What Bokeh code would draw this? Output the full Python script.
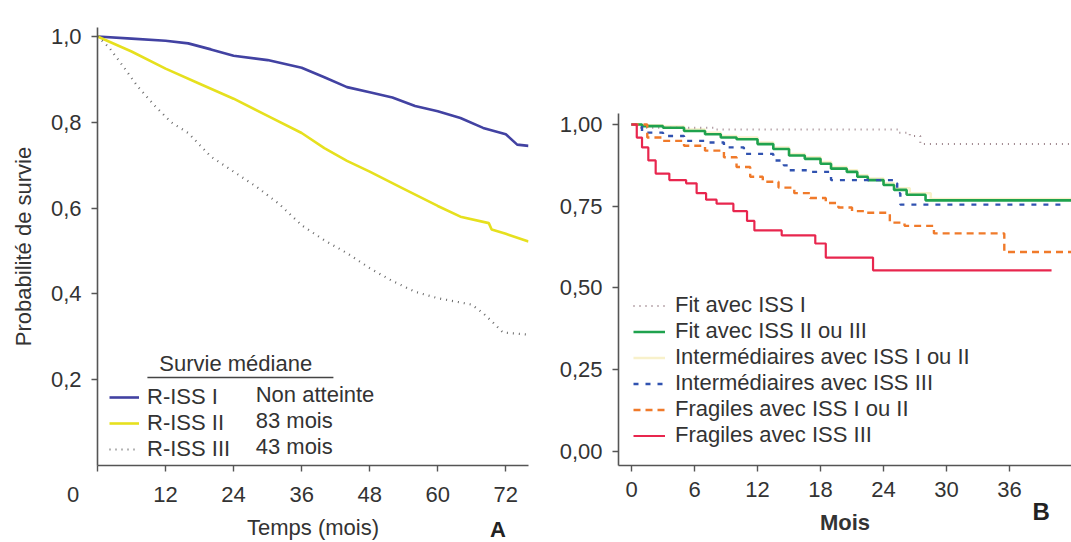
from bokeh.plotting import figure
from bokeh.layouts import row
from bokeh.models import Range1d, FixedTicker, Legend, LegendItem, Label, LinearAxis
from bokeh.embed import file_html
from bokeh.resources import INLINE

# ---------------- Panel A data ----------------
a_x_ticks = [0, 12, 24, 36, 48, 60, 72]
a_x_labels = ["0" + "\u00a0" * 8, "12", "24", "36", "48", "60", "72"]
a_y_ticks = [0.2, 0.4, 0.6, 0.8, 1.0]
a_y_labels = ["0,2", "0,4", "0,6", "0,8", "1,0"]

riss1_t = [0, 6, 12, 16, 20, 24, 30, 36, 40, 44, 48, 52, 56, 60, 64, 68, 72, 74, 76]
riss1_s = [1.0, 0.995, 0.99, 0.984, 0.97, 0.955, 0.945, 0.927, 0.905, 0.882, 0.87, 0.858,
           0.838, 0.826, 0.81, 0.787, 0.772, 0.748, 0.745]
riss2_t = [0, 6, 12, 18, 24, 30, 36, 40, 44, 48, 54, 60, 64, 69, 69.5, 72, 76]
riss2_s = [1.0, 0.965, 0.925, 0.89, 0.855, 0.815, 0.775, 0.74, 0.71, 0.685, 0.645, 0.605,
           0.58, 0.565, 0.55, 0.54, 0.522]
riss3_t = [0, 2, 4, 7, 10, 13, 16, 20, 24, 28, 32, 36, 40, 44, 48, 52, 56, 60, 64, 66, 68,
           70, 71.5, 76]
riss3_s = [1.0, 0.975, 0.94, 0.885, 0.84, 0.8, 0.775, 0.72, 0.685, 0.65, 0.61, 0.56, 0.525,
           0.495, 0.46, 0.43, 0.405, 0.39, 0.38, 0.375, 0.355, 0.33, 0.31, 0.305]
a_groups = ["R-ISS I", "R-ISS II", "R-ISS III"]
a_medians = ["Non atteinte", "83 mois", "43 mois"]

# ---------------- Panel B data ----------------
b_x_ticks = [0, 6, 12, 18, 24, 30, 36]
b_y_ticks = [0.0, 0.25, 0.5, 0.75, 1.0]
b_y_labels = ["0,00", "0,25", "0,50", "0,75", "1,00"]

fit1_t = [0, 0.5, 8, 25.5, 26.5, 27.5, 42]
fit1_s = [1.0, 0.99, 0.985, 0.975, 0.965, 0.94, 0.94]
fit23_t = [0, 1, 3, 5, 7, 8.5, 10, 12, 13.5, 15, 16.5, 18, 19, 20.5, 21.5, 22.5, 24, 25,
           26.2, 28, 42]
fit23_s = [1.0, 0.995, 0.99, 0.98, 0.97, 0.96, 0.955, 0.94, 0.925, 0.905, 0.895, 0.88, 0.865,
           0.855, 0.84, 0.83, 0.815, 0.80, 0.785, 0.768, 0.768]
int12_t = [0, 1, 3, 5, 7, 8.5, 10, 12, 13.5, 15, 16.5, 18, 19, 20.5, 21.5, 22.5, 24, 25,
           26.5, 28.5, 42]
int12_s = [1.0, 0.998, 0.994, 0.985, 0.975, 0.965, 0.96, 0.945, 0.93, 0.91, 0.9, 0.885, 0.87,
           0.86, 0.845, 0.835, 0.82, 0.805, 0.79, 0.772, 0.772]
int3_t = [0, 1, 3, 5, 7, 8.8, 10.7, 13.5, 14.5, 15, 17, 19, 25, 25.3, 25.6, 41]
int3_s = [1.0, 0.975, 0.965, 0.95, 0.945, 0.93, 0.91, 0.89, 0.875, 0.86, 0.855, 0.83, 0.82,
          0.79, 0.755, 0.755]
fra12_t = [0, 1.5, 3, 5, 7, 8.8, 10, 11.3, 12.5, 14, 15.5, 17, 18.5, 19.7, 21, 22.3, 24.6, 26,
           28.8, 35.5, 42]
fra12_s = [1.0, 0.96, 0.95, 0.935, 0.92, 0.90, 0.87, 0.84, 0.825, 0.807, 0.79, 0.775, 0.76,
           0.746, 0.735, 0.73, 0.70, 0.69, 0.667, 0.61, 0.61]
fra3_t = [0, 0.5, 1, 1.6, 2.3, 3.6, 5.2, 6.2, 7.1, 8.1, 9.7, 11.0, 11.7, 14.3, 17.5, 18.5, 23, 40]
fra3_s = [1.0, 0.96, 0.93, 0.89, 0.85, 0.83, 0.82, 0.79, 0.77, 0.758, 0.735, 0.705, 0.676,
          0.661, 0.636, 0.593, 0.554, 0.554]
b_groups = ["Fit avec ISS I", "Fit avec ISS II ou III", "Intermédiaires avec ISS I ou II",
            "Intermédiaires avec ISS III", "Fragiles avec ISS I ou II", "Fragiles avec ISS III"]

FONT = "Liberation Sans"
TXT = "#333333"
AX = "#555555"


def style_axes(p):
    p.outline_line_color = None
    p.xgrid.grid_line_color = None
    p.ygrid.grid_line_color = None
    p.background_fill_color = "white"
    p.border_fill_color = "white"
    for ax in (p.xaxis[0], p.yaxis[0]):
        ax.axis_line_color = AX
        ax.axis_line_width = 1.6
        ax.major_tick_line_color = AX
        ax.major_tick_line_width = 1.4
        ax.major_tick_out = 6
        ax.major_tick_in = 0
        ax.minor_tick_line_color = None
        ax.major_label_text_font = FONT
        ax.major_label_text_font_size = "22px"
        ax.major_label_text_color = TXT
        ax.axis_label_text_font = FONT
        ax.axis_label_text_font_size = "22px"
        ax.axis_label_text_color = TXT
        ax.axis_label_text_font_style = "normal"
    p.xaxis[0].major_label_standoff = 10
    p.yaxis[0].major_label_standoff = 10
    p.yaxis[0].axis_label_standoff = 12


def title_axis(p, pos, letter, size, standoff, title, title_style, title_standoff):
    # second x axis below the first one: no line, no ticks; carries the panel letter
    # (as its only tick label) and the axis title
    ax = LinearAxis(ticker=FixedTicker(ticks=[pos]), major_label_overrides={pos: letter},
                    axis_line_color=None, major_tick_line_color=None,
                    minor_tick_line_color=None, major_tick_out=0, major_tick_in=0,
                    minor_tick_out=0, minor_tick_in=0,
                    major_label_standoff=standoff, major_label_text_font=FONT,
                    major_label_text_font_size=size, major_label_text_font_style="bold",
                    major_label_text_color="#222222",
                    axis_label=title, axis_label_text_font=FONT,
                    axis_label_text_font_size="22px", axis_label_text_color=TXT,
                    axis_label_text_font_style=title_style,
                    axis_label_standoff=title_standoff)
    p.add_layout(ax, "below")


# ---------------- Panel A ----------------
pa = figure(width=540, height=542, output_backend="svg", toolbar_location=None,
            x_range=Range1d(0, 76), y_range=Range1d(0, 1.021),
            min_border_left=97, min_border_right=12, min_border_top=27, min_border_bottom=77)
style_axes(pa)
pa.xaxis[0].ticker = FixedTicker(ticks=a_x_ticks)
pa.xaxis[0].major_label_overrides = {t: l for t, l in zip(a_x_ticks, a_x_labels)}
pa.yaxis[0].ticker = FixedTicker(ticks=a_y_ticks)
pa.yaxis[0].major_label_overrides = {t: l for t, l in zip(a_y_ticks, a_y_labels)}
pa.yaxis[0].axis_label = "Probabilité de survie"

ra1 = pa.line(riss1_t, riss1_s, line_color="#4242a2", line_width=2.6)
ra2 = pa.line(riss2_t, riss2_s, line_color="#e6e01e", line_width=2.6)
ra3 = pa.line(riss3_t, riss3_s, line_color="#6a6a6a", line_width=2.2, line_dash="1 5")

leg_a = Legend(items=[LegendItem(label=g, renderers=[r]) for g, r in zip(a_groups, [ra1, ra2, ra3])],
               location=(12, 3), padding=0, spacing=0, margin=0,
               glyph_width=30, glyph_height=26, label_height=26, label_standoff=8,
               label_text_font=FONT, label_text_font_size="22px", label_text_color=TXT,
               background_fill_alpha=0, border_line_color=None)
pa.add_layout(leg_a)

pa.add_layout(Label(x=10.9, y=0.2378, text="Survie médiane", text_font=FONT,
                    text_font_size="22px", text_color=TXT, text_baseline="middle"))
pa.segment(x0=[8.8], y0=[0.205], x1=[41.6], y1=[0.205], line_color="#444444", line_width=1.5)
for yv, m in zip([0.1655, 0.1049, 0.0443], a_medians):
    pa.add_layout(Label(x=27.9, y=yv, text=m, text_font=FONT, text_font_size="22px",
                        text_color=TXT, text_baseline="middle"))
title_axis(pa, 70.6, "A", "22px", 7, "Temps (mois)", "normal", -30)

# ---------------- Panel B ----------------
pb = figure(width=531, height=542, output_backend="svg", toolbar_location=None,
            x_range=Range1d(-1.24, 41.9), y_range=Range1d(-0.0428, 1.2966),
            min_border_left=78, min_border_right=0, min_border_top=27, min_border_bottom=77)
style_axes(pb)
pb.xaxis[0].ticker = FixedTicker(ticks=b_x_ticks)
pb.yaxis[0].ticker = FixedTicker(ticks=b_y_ticks)
pb.yaxis[0].major_label_overrides = {t: l for t, l in zip(b_y_ticks, b_y_labels)}
pb.yaxis[0].bounds = (-0.0428, 1.034)

rb3 = pb.step(int12_t, int12_s, mode="after", line_color="#f3e7a8", line_width=2.5, line_alpha=0.6)
rb1 = pb.step(fit1_t, fit1_s, mode="after", line_color="#9a8088", line_width=2, line_dash="1 5")
rb2 = pb.step(fit23_t, fit23_s, mode="after", line_color="#1fa24e", line_width=2.6)
rb4 = pb.step(int3_t, int3_s, mode="after", line_color="#3052b0", line_width=2.4, line_dash="5 7")
rb5 = pb.step(fra12_t, fra12_s, mode="after", line_color="#f07a2a", line_width=2.4, line_dash="7 5")
rb6 = pb.step(fra3_t, fra3_s, mode="after", line_color="#e8264e", line_width=2.2)

leg_b = Legend(items=[LegendItem(label=g, renderers=[r])
                      for g, r in zip(b_groups, [rb1, rb2, rb3, rb4, rb5, rb6])],
               location=(15, 17), padding=0, spacing=0, margin=0,
               glyph_width=32, glyph_height=25, label_height=25, label_standoff=10,
               label_text_font=FONT, label_text_font_size="22px", label_text_color=TXT,
               background_fill_alpha=0, border_line_color=None)
pb.add_layout(leg_b)
title_axis(pb, 39.0, "B", "24px", -2, "Mois", "bold", -18)

layout = row(pa, pb)
open("out.html", "w").write(file_html(layout, INLINE))
